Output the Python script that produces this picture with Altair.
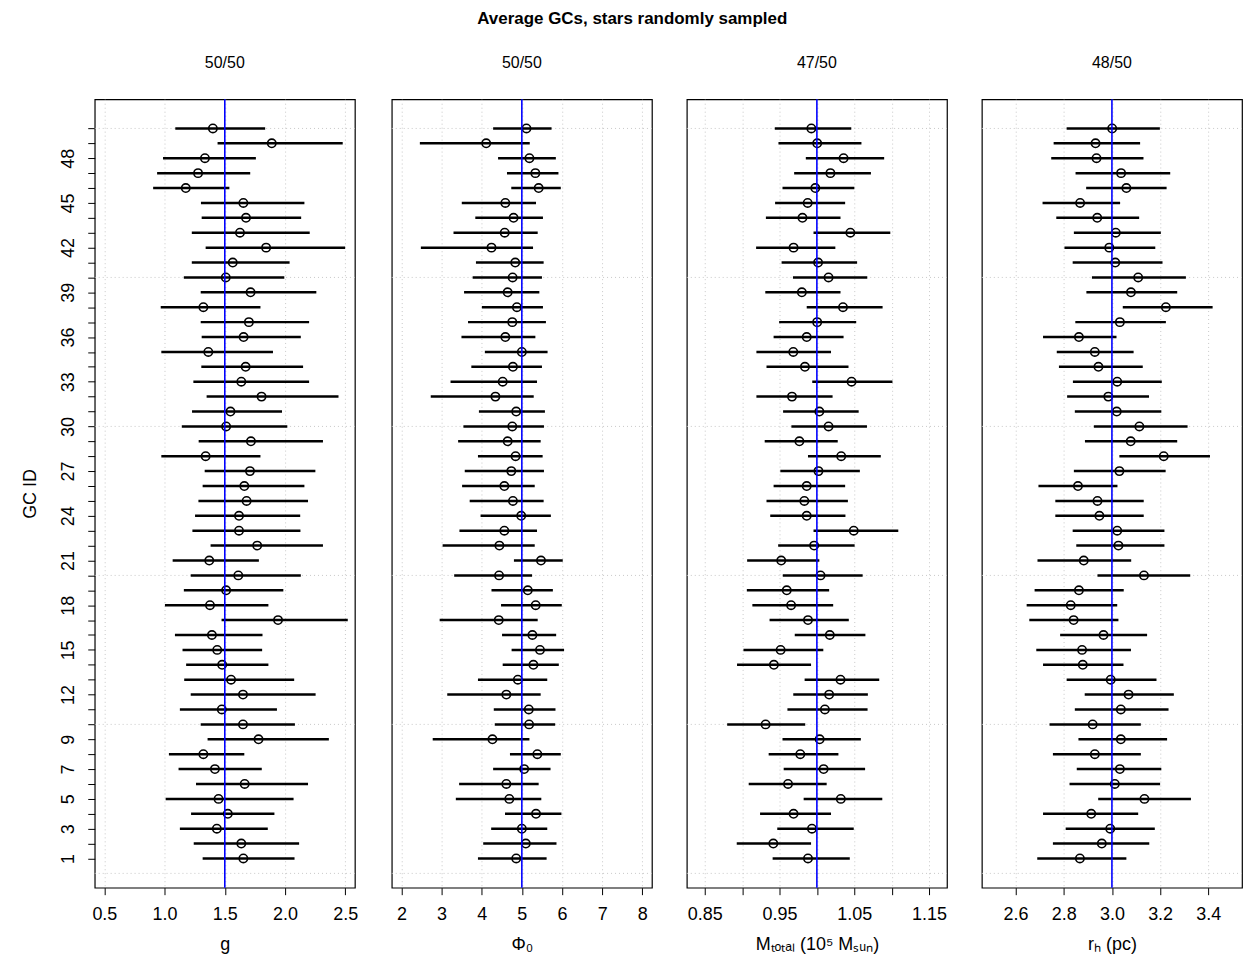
import altair as alt
import pandas as pd

# GC IDs listed top (50) to bottom (1)
gc_id = [50, 49, 48, 47, 46, 45, 44, 43, 42, 41, 40, 39, 38, 37, 36, 35, 34, 33, 32, 31,
         30, 29, 28, 27, 26, 25, 24, 23, 22, 21, 20, 19, 18, 17, 16, 15, 14, 13, 12, 11,
         10, 9, 8, 7, 6, 5, 4, 3, 2, 1]

g_pt = [1.401, 1.890, 1.335, 1.278, 1.176, 1.654, 1.676, 1.626, 1.843, 1.566, 1.508, 1.714, 1.322, 1.700, 1.656,
        1.363, 1.673, 1.637, 1.805, 1.547, 1.511, 1.717, 1.341, 1.709, 1.662, 1.681, 1.618, 1.618, 1.769, 1.371,
        1.612, 1.511, 1.377, 1.942, 1.393, 1.437, 1.478, 1.552, 1.651, 1.475, 1.651, 1.780, 1.322, 1.418, 1.665,
        1.448, 1.525, 1.434, 1.637, 1.654]
g_lo = [1.089, 1.440, 0.987, 0.938, 0.905, 1.302, 1.308, 1.226, 1.341, 1.226, 1.160, 1.300, 0.968, 1.300, 1.308,
        0.973, 1.305, 1.239, 1.349, 1.228, 1.143, 1.283, 0.973, 1.333, 1.316, 1.281, 1.253, 1.231, 1.382, 1.067,
        1.217, 1.160, 1.003, 1.473, 1.086, 1.149, 1.179, 1.163, 1.217, 1.127, 1.300, 1.357, 1.036, 1.116, 1.261,
        1.009, 1.220, 1.127, 1.242, 1.316]
g_hi = [1.835, 2.479, 1.758, 1.711, 1.538, 2.161, 2.134, 2.205, 2.499, 2.038, 1.994, 2.260, 1.796, 2.200, 2.131,
        1.900, 2.150, 2.200, 2.444, 1.975, 2.019, 2.315, 1.796, 2.252, 2.161, 2.191, 2.126, 2.128, 2.315, 1.783,
        2.131, 1.986, 1.862, 2.521, 1.813, 1.810, 1.862, 2.076, 2.254, 1.933, 2.082, 2.364, 1.662, 1.807, 2.191,
        2.071, 1.912, 1.857, 2.117, 2.079]

phi_pt = [5.115, 4.112, 5.189, 5.337, 5.419, 4.589, 4.794, 4.573, 4.244, 4.836, 4.770, 4.647, 4.877, 4.762, 4.589,
          5.000, 4.778, 4.523, 4.342, 4.860, 4.762, 4.647, 4.844, 4.737, 4.564, 4.778, 4.984, 4.564, 4.441, 5.477,
          4.433, 5.148, 5.345, 4.425, 5.263, 5.452, 5.288, 4.901, 4.614, 5.173, 5.181, 4.268, 5.386, 5.058, 4.614,
          4.688, 5.353, 5.000, 5.099, 4.860]
phi_lo = [4.285, 2.460, 4.408, 4.630, 4.737, 3.504, 3.841, 3.298, 2.485, 3.857, 3.775, 3.561, 4.005, 3.660, 3.496,
          4.079, 3.742, 3.224, 2.731, 3.931, 3.545, 3.413, 3.907, 3.578, 3.512, 3.701, 3.972, 3.446, 3.027, 4.803,
          3.315, 4.244, 4.482, 2.953, 4.507, 4.745, 4.523, 3.907, 3.142, 4.301, 4.326, 2.780, 4.704, 4.285, 3.438,
          3.356, 4.581, 4.236, 4.038, 3.907]
phi_hi = [5.740, 5.197, 5.847, 5.912, 5.970, 5.353, 5.526, 5.395, 5.279, 5.543, 5.501, 5.436, 5.526, 5.600, 5.337,
          5.641, 5.501, 5.378, 5.296, 5.575, 5.551, 5.469, 5.518, 5.551, 5.321, 5.543, 5.723, 5.378, 5.321, 6.019,
          5.255, 5.773, 5.995, 5.395, 5.855, 6.052, 5.921, 5.633, 5.469, 5.838, 5.830, 5.189, 5.970, 5.715, 5.419,
          5.485, 5.986, 5.633, 5.863, 5.617]

m_pt = [0.9926, 1.0004, 1.0357, 1.0181, 0.9979, 0.9877, 0.9807, 1.0448, 0.9688, 1.0016, 1.0156, 0.9799, 1.0349,
        1.0004, 0.9864, 0.9684, 0.9840, 1.0464, 0.9667, 1.0033, 1.0156, 0.9766, 1.0325, 1.0021, 0.9864, 0.9832,
        0.9864, 1.0493, 0.9963, 0.9523, 1.0049, 0.9597, 0.9655, 0.9881, 1.0173, 0.9515, 0.9425, 1.0316, 1.0164,
        1.0107, 0.9314, 1.0037, 0.9778, 1.0090, 0.9614, 1.0320, 0.9688, 0.9934, 0.9417, 0.9881]
m_lo = [0.9437, 0.9486, 0.9852, 0.9696, 0.9540, 0.9441, 0.9318, 0.9955, 0.9187, 0.9528, 0.9680, 0.9310, 0.9864,
        0.9495, 0.9421, 0.9191, 0.9326, 0.9938, 0.9191, 0.9548, 0.9659, 0.9302, 0.9881, 0.9511, 0.9421, 0.9326,
        0.9376, 0.9955, 0.9482, 0.9067, 0.9544, 0.9063, 0.9137, 0.9367, 0.9704, 0.9018, 0.8932, 0.9836, 0.9684,
        0.9606, 0.8800, 0.9540, 0.9355, 0.9556, 0.9088, 0.9823, 0.9240, 0.9470, 0.8928, 0.9408]
m_hi = [1.0460, 1.0596, 1.0900, 1.0723, 1.0501, 1.0378, 1.0316, 1.0982, 1.0247, 1.0538, 1.0674, 1.0316, 1.0879,
        1.0526, 1.0357, 1.0189, 1.0423, 1.1011, 1.0210, 1.0559, 1.0670, 1.0279, 1.0855, 1.0575, 1.0378, 1.0415,
        1.0382, 1.1089, 1.0505, 1.0033, 1.0612, 1.0164, 1.0218, 1.0427, 1.0649, 1.0086, 0.9922, 1.0834, 1.0682,
        1.0678, 0.9844, 1.0588, 1.0288, 1.0645, 1.0131, 1.0875, 1.0189, 1.0493, 0.9922, 1.0440]

rh_pt = [3.001, 2.932, 2.936, 3.038, 3.060, 2.868, 2.939, 3.016, 2.989, 3.014, 3.109, 3.079, 3.224, 3.033, 2.863,
         2.929, 2.944, 3.022, 2.985, 3.020, 3.114, 3.078, 3.215, 3.031, 2.859, 2.940, 2.948, 3.022, 3.027, 2.883,
         3.133, 2.863, 2.829, 2.841, 2.965, 2.876, 2.879, 2.995, 3.069, 3.037, 2.920, 3.037, 2.929, 3.033, 3.012,
         3.135, 2.914, 2.993, 2.958, 2.867]
rh_lo = [2.812, 2.758, 2.748, 2.849, 2.893, 2.712, 2.769, 2.842, 2.803, 2.837, 2.917, 2.894, 3.045, 2.848, 2.714,
         2.771, 2.780, 2.838, 2.814, 2.846, 2.925, 2.888, 3.031, 2.842, 2.695, 2.765, 2.765, 2.837, 2.852, 2.691,
         2.940, 2.679, 2.646, 2.657, 2.785, 2.686, 2.714, 2.812, 2.887, 2.846, 2.741, 2.861, 2.755, 2.854, 2.824,
         2.943, 2.714, 2.808, 2.755, 2.690]
rh_hi = [3.199, 3.117, 3.131, 3.242, 3.227, 3.034, 3.113, 3.203, 3.180, 3.210, 3.307, 3.271, 3.418, 3.224, 3.019,
         3.090, 3.128, 3.207, 3.154, 3.205, 3.314, 3.271, 3.407, 3.223, 3.023, 3.132, 3.132, 3.218, 3.218, 3.080,
         3.325, 3.049, 3.022, 3.027, 3.146, 3.079, 3.048, 3.185, 3.257, 3.235, 3.120, 3.229, 3.120, 3.205, 3.200,
         3.328, 3.109, 3.178, 3.155, 3.060]

panel_titles = ["50/50", "50/50", "47/50", "48/50"]
x_titles = ["g", "Φ₀", "Mₜₒₜₐₗ (10⁵ Mₛᵤₙ)", "rₕ (pc)"]
truths = [1.5, 5.0, 1.0, 3.0]
x_domains = [[0.42, 2.58], [1.76, 8.24], [0.826, 1.174], [2.46, 3.54]]
x_ticks = [[0.5, 1.0, 1.5, 2.0, 2.5],
           [2, 3, 4, 5, 6, 7, 8],
           [0.85, 0.90, 0.95, 1.00, 1.05, 1.10, 1.15],
           [2.6, 2.8, 3.0, 3.2, 3.4]]
x_label_expr = ["format(datum.value, '.1f')",
                "datum.label",
                "(round(datum.value*100) % 10 == 5) ? format(datum.value, '.2f') : ''",
                "format(datum.value, '.1f')"]
y_ticks = list(range(1, 51))
y_labels_shown = [1, 3, 5, 7, 9, 12, 15, 18, 21, 24, 27, 30, 33, 36, 39, 42, 45, 48]
h_grid = [0, 10, 20, 30, 40, 50]

series = [(g_pt, g_lo, g_hi), (phi_pt, phi_lo, phi_hi), (m_pt, m_lo, m_hi), (rh_pt, rh_lo, rh_hi)]

W, H = 261, 791
FONT = "Liberation Sans"
GRID = "#c8c8c8"
LAB = 18

yscale = alt.Scale(domain=[-0.96, 51.96], nice=False, zero=False)


def panel(i):
    pt, lo, hi = series[i]
    df = pd.DataFrame({"id": gc_id, "pt": pt, "lo": lo, "hi": hi})
    xscale = alt.Scale(domain=x_domains[i], nice=False, zero=False)
    xaxis = alt.Axis(values=x_ticks[i], labelExpr=x_label_expr[i], grid=True, gridDash=[1, 3],
                     gridColor=GRID, gridWidth=1, domain=False, tickColor="black", tickSize=7,
                     tickWidth=1, labelFontSize=LAB, labelColor="black", labelPadding=11,
                     title=x_titles[i], titleFontSize=18, titleFontWeight="normal",
                     titleColor="black", titlePadding=12, labelFlush=False)
    if i == 0:
        yaxis = alt.Axis(values=y_ticks,
                         labelExpr="indexof(%s, datum.value) >= 0 ? datum.label : ''" % str(y_labels_shown),
                         labelAngle=270, labelAlign="center", labelBaseline="bottom",
                         labelFontSize=LAB, labelColor="black", labelPadding=10, labelOverlap=False,
                         tickColor="black", tickSize=7, tickWidth=1, domain=False, grid=False,
                         title="GC ID", titleFontSize=18, titleFontWeight="normal",
                         titleColor="black", titlePadding=20)
    else:
        yaxis = None

    base = alt.Chart(df)
    hgrid = alt.Chart(pd.DataFrame({"h": h_grid})).mark_rule(
        color=GRID, strokeDash=[1, 3], strokeWidth=1).encode(
        y=alt.Y("h:Q", scale=yscale, axis=yaxis))
    bars = base.mark_rule(color="black", strokeWidth=2.5).encode(
        x=alt.X("lo:Q", scale=xscale, axis=xaxis),
        x2="hi:Q",
        y=alt.Y("id:Q", scale=yscale, axis=yaxis))
    pts = base.mark_point(shape="circle", filled=False, color="black", size=70,
                          strokeWidth=1.6, opacity=1).encode(
        x=alt.X("pt:Q", scale=xscale, axis=xaxis),
        y=alt.Y("id:Q", scale=yscale, axis=yaxis))
    truth = alt.Chart(pd.DataFrame({"t": [truths[i]]})).mark_rule(
        color="blue", strokeWidth=1.6).encode(x=alt.X("t:Q", scale=xscale, axis=xaxis))
    return alt.layer(hgrid, bars, pts, truth).properties(
        width=W, height=H,
        title=alt.TitleParams(panel_titles[i], fontSize=16, fontWeight="normal",
                              color="black", offset=28, font=FONT))


chart = alt.hconcat(*[panel(i) for i in range(4)], spacing=31).properties(
    title=alt.TitleParams("Average GCs, stars randomly sampled", fontSize=17,
                          fontWeight="bold", anchor="middle", color="black",
                          font=FONT, offset=17, dy=-9),
    padding={"left": 13, "top": 0, "right": 0, "bottom": 0},
).configure(font=FONT).configure_view(
    stroke="black", strokeWidth=1.2
).configure_axis(labelFont=FONT, titleFont=FONT)

chart.save("out.html", embed_options={"renderer": "svg", "actions": False})
